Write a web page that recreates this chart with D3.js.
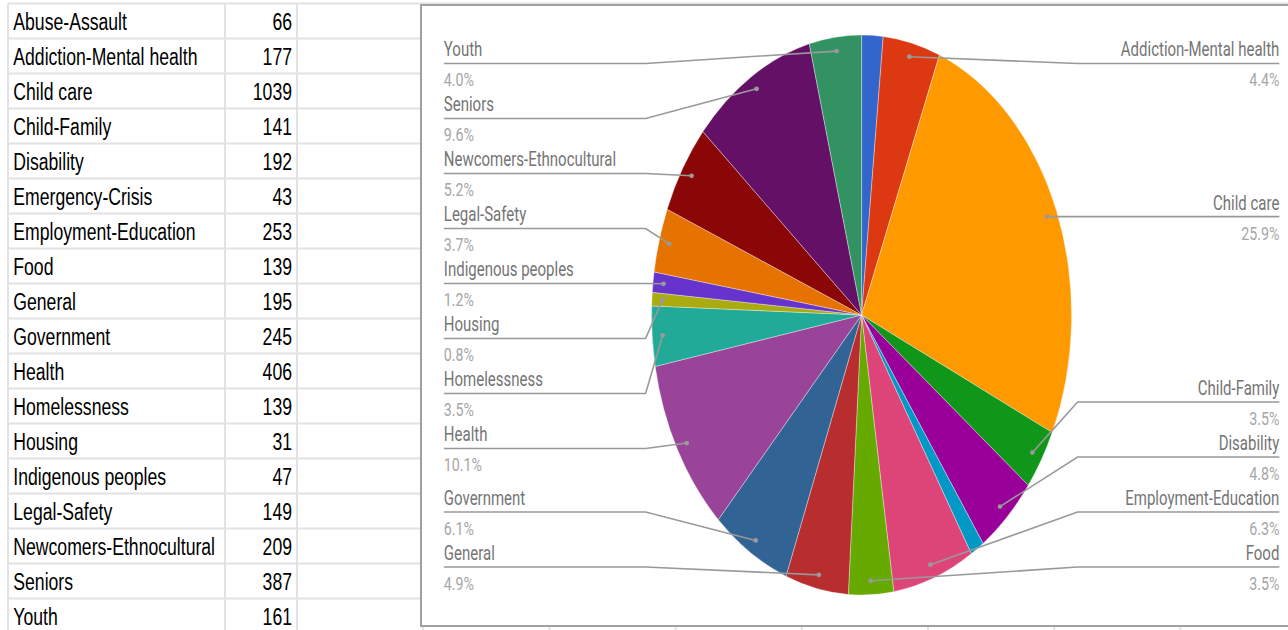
<!DOCTYPE html>
<html>
  <head>
    <meta charset="utf-8">
    <title>Services by category</title>
    <script src="https://d3js.org/d3.v7.min.js"></script>
    <style>
      body { margin: 0; background: #fff; }
      .grid { stroke: #e2e2e2; stroke-width: 2; }
      .cell-text { font-family: "Liberation Sans", Arial, sans-serif; font-size: 23.5px; fill: #000; }
      .lbl-name { font-family: Roboto, sans-serif; font-size: 20px; fill: #757575; }
      .lbl-pct { font-family: Roboto, sans-serif; font-size: 19px; fill: #a6a6a6; }
      .leader { fill: none; stroke: #999; stroke-width: 1.6; }
    </style>
  </head>
  <body>
    <svg width="1288" height="630"></svg>
    <script>
      var categories = ["Abuse-Assault", "Addiction-Mental health", "Child care", "Child-Family",
        "Disability", "Emergency-Crisis", "Employment-Education", "Food", "General", "Government",
        "Health", "Homelessness", "Housing", "Indigenous peoples", "Legal-Safety",
        "Newcomers-Ethnocultural", "Seniors", "Youth"];
      var counts = [66, 177, 1039, 141, 192, 43, 253, 139, 195, 245, 406, 139, 31, 47, 149, 209, 387, 161];
      var colors = ["#3366cc", "#dc3912", "#ff9900", "#109618", "#990099", "#0099c6", "#dd4477",
        "#66aa00", "#b82e2e", "#316395", "#994499", "#22aa99", "#aaaa11", "#6633cc", "#e67300",
        "#8b0707", "#651067", "#329262"];
      // slices the chart left without a label
      var hiddenLabels = ["Abuse-Assault", "Emergency-Crisis"];

      // the screenshot is squeezed horizontally, so draw in unsqueezed units and scale x
      var sx = 0.75,
          W = 1288 / sx, H = 630;

      var svg = d3.select("svg");
      var g = svg.append("g").attr("transform", "scale(" + sx + ",1)");

      // ---- spreadsheet grid ----
      var rowTop = 3.5, rowH = 35,
          colX = [8 / sx, 225 / sx],
          colStart = 297 / sx, colW = 126.2 / sx;

      var rows = d3.range(categories.length + 1);
      g.selectAll(".hline").data(rows).enter().append("line")
          .attr("class", "grid")
          .attr("vector-effect", "non-scaling-stroke")
          .attr("x1", colX[0]).attr("x2", W)
          .attr("y1", function(i) { return rowTop + i * rowH; })
          .attr("y2", function(i) { return rowTop + i * rowH; });

      var vcols = colX.concat(d3.range(0, 9).map(function(k) { return colStart + k * colW; }));
      g.selectAll(".vline").data(vcols).enter().append("line")
          .attr("class", "grid")
          .attr("vector-effect", "non-scaling-stroke")
          .attr("x1", function(d) { return d; }).attr("x2", function(d) { return d; })
          .attr("y1", rowTop).attr("y2", H);

      g.selectAll(".cat").data(categories).enter().append("text")
          .attr("class", "cell-text")
          .attr("x", 13.3 / sx)
          .attr("y", function(d, i) { return rowTop + i * rowH + 26.5; })
          .text(function(d) { return d; });

      g.selectAll(".val").data(counts).enter().append("text")
          .attr("class", "cell-text")
          .attr("text-anchor", "end")
          .attr("x", 292 / sx)
          .attr("y", function(d, i) { return rowTop + i * rowH + 26.5; })
          .text(function(d) { return d; });

      // ---- chart frame ----
      g.append("rect")
          .attr("x", 421 / sx).attr("y", 5)
          .attr("width", W).attr("height", 621)
          .attr("fill", "#fff")
          .attr("stroke", "#a0a0a0")
          .attr("stroke-width", 2)
          .attr("vector-effect", "non-scaling-stroke");

      // ---- pie ----
      var cx = 861.6 / sx, cy = 315, R = 280;
      var data = categories.map(function(c, i) { return {name: c, value: counts[i], color: colors[i]}; });
      var total = d3.sum(counts);
      var pct = d3.format(".1%");

      var pie = d3.pie().sort(null).value(function(d) { return d.value; });
      var arcs = pie(data);
      var arc = d3.arc().innerRadius(0).outerRadius(R);
      var anchorArc = d3.arc().innerRadius(R * 0.95).outerRadius(R * 0.95);

      var chart = g.append("g").attr("transform", "translate(" + cx + "," + cy + ")");

      chart.selectAll(".slice").data(arcs).enter().append("path")
          .attr("d", arc)
          .attr("fill", function(d) { return d.data.color; })
          .attr("stroke", "#fff")
          .attr("stroke-opacity", 0.5)
          .attr("stroke-width", 0.7)
          .attr("vector-effect", "non-scaling-stroke");

      // ---- labels ----
      var labels = arcs.filter(function(d) { return hiddenLabels.indexOf(d.data.name) < 0; })
        .map(function(d) {
          var c = anchorArc.centroid(d);
          var mid = (d.startAngle + d.endAngle) / 2;
          return {d: d, ax: c[0], ay: c[1] + cy, want: c[1] + cy, left: mid > Math.PI};
        });

      // push labels up from the bottom first, then down from the top
      var minY = 63.5, maxY = 567, gap = 55;
      function spread(items) {
        items.sort(function(a, b) { return a.want - b.want; });
        for (var i = items.length - 1; i >= 0; i--) {
          var lim = i < items.length - 1 ? items[i + 1].y - gap : maxY;
          items[i].y = Math.min(items[i].want, lim, maxY);
        }
        items.forEach(function(it, i) {
          it.y = Math.max(it.y, minY, i ? items[i - 1].y + gap : minY);
        });
      }
      spread(labels.filter(function(l) { return l.left; }));
      spread(labels.filter(function(l) { return !l.left; }));

      var bend = R + 8, edge = 557;
      var lab = g.selectAll(".lbl").data(labels).enter().append("g");

      lab.append("path")
          .attr("class", "leader")
          .attr("vector-effect", "non-scaling-stroke")
          .attr("d", function(l) {
            var s = l.left ? -1 : 1;
            return d3.line()([[cx + l.ax, l.ay], [cx + s * bend, l.y], [cx + s * edge, l.y]]);
          });

      lab.append("ellipse")
          .attr("cx", function(l) { return cx + l.ax; })
          .attr("cy", function(l) { return l.ay; })
          .attr("rx", 2.4 / sx).attr("ry", 2.4)
          .attr("fill", "#999");

      lab.append("text")
          .attr("class", "lbl-name")
          .attr("text-anchor", function(l) { return l.left ? "start" : "end"; })
          .attr("x", function(l) { return cx + (l.left ? -edge : edge); })
          .attr("y", function(l) { return l.y - 7; })
          .text(function(l) { return l.d.data.name; });

      lab.append("text")
          .attr("class", "lbl-pct")
          .attr("text-anchor", function(l) { return l.left ? "start" : "end"; })
          .attr("x", function(l) { return cx + (l.left ? -edge : edge); })
          .attr("y", function(l) { return l.y + 23; })
          .text(function(l) { return pct(l.d.data.value / total); });
    </script>
  </body>
</html>
